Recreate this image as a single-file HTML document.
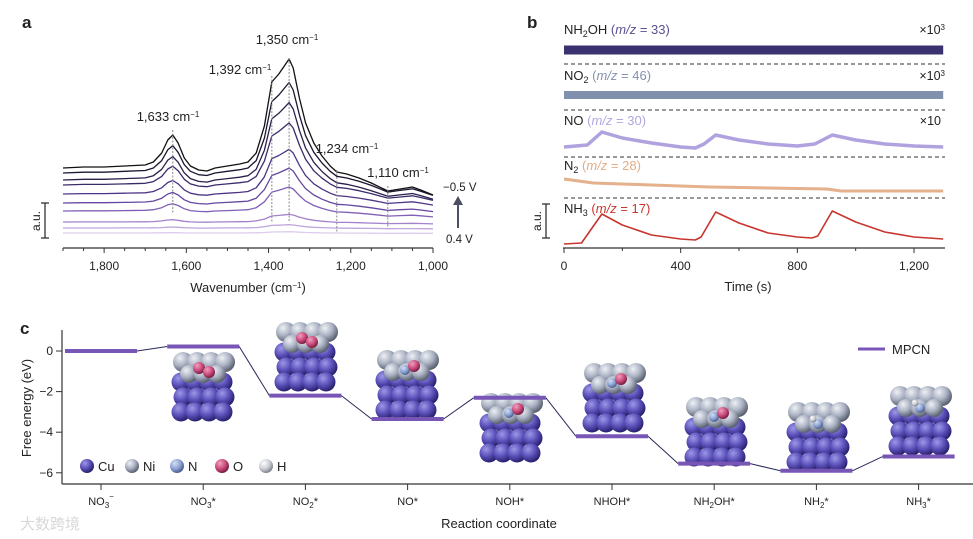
<!DOCTYPE html>
<html><head><meta charset="utf-8">
<style>
body{margin:0;background:#fff;}
svg{display:block;font-family:"Liberation Sans",Arial,sans-serif;}
text{fill:#222;}
</style></head>
<body>
<svg id="fig" width="973" height="539" viewBox="0 0 973 539" xmlns="http://www.w3.org/2000/svg">
<defs>
<radialGradient id="gCu" cx="35%" cy="30%" r="70%"><stop offset="0" stop-color="#9c98e8"/><stop offset="0.55" stop-color="#5a4fb8"/><stop offset="1" stop-color="#2a2270"/></radialGradient>
<radialGradient id="gNi" cx="35%" cy="30%" r="70%"><stop offset="0" stop-color="#eef0f4"/><stop offset="0.55" stop-color="#a9b1c2"/><stop offset="1" stop-color="#5b6170"/></radialGradient>
<radialGradient id="gN" cx="35%" cy="30%" r="70%"><stop offset="0" stop-color="#d5e0f5"/><stop offset="0.6" stop-color="#8aa0d0"/><stop offset="1" stop-color="#4c5f90"/></radialGradient>
<radialGradient id="gO" cx="35%" cy="30%" r="70%"><stop offset="0" stop-color="#f2a0bf"/><stop offset="0.6" stop-color="#c84a7a"/><stop offset="1" stop-color="#7a1e44"/></radialGradient>
<radialGradient id="gH" cx="35%" cy="30%" r="70%"><stop offset="0" stop-color="#ffffff"/><stop offset="0.6" stop-color="#c8cbd2"/><stop offset="1" stop-color="#80848e"/></radialGradient>
</defs>

<g>
<text x="22" y="28" font-size="17" font-weight="bold">a</text>
<g id="aCurves"></g>
<g id="aAxis"></g>
<text x="248" y="292" font-size="13" text-anchor="middle">Wavenumber (cm<tspan baseline-shift="super" font-size="8">−1</tspan>)</text>
<g>
<line x1="45" y1="203" x2="45" y2="238" stroke="#333" stroke-width="1.3"/>
<line x1="41" y1="203" x2="49" y2="203" stroke="#333" stroke-width="1.3"/>
<line x1="41" y1="238" x2="49" y2="238" stroke="#333" stroke-width="1.3"/>
<text transform="translate(40,221) rotate(-90)" font-size="12" text-anchor="middle">a.u.</text>
</g>
<text x="443" y="191" font-size="11.5">−0.5 V</text>
<text x="446" y="243" font-size="11.5">0.4 V</text>
<g>
<line x1="458" y1="228" x2="458" y2="204" stroke="#4a5060" stroke-width="2"/>
<polygon points="453,205 463,205 458,196" fill="#4a5060"/>
</g>
</g>

<g>
<text x="527" y="28" font-size="17" font-weight="bold">b</text>
<g id="bTraces"></g>
<g id="bAxis"></g>
<text x="748" y="291" font-size="13" text-anchor="middle">Time (s)</text>
<g>
<line x1="546" y1="204" x2="546" y2="238" stroke="#333" stroke-width="1.3"/>
<line x1="542" y1="204" x2="550" y2="204" stroke="#333" stroke-width="1.3"/>
<line x1="542" y1="238" x2="550" y2="238" stroke="#333" stroke-width="1.3"/>
<text transform="translate(541,221) rotate(-90)" font-size="12" text-anchor="middle">a.u.</text>
</g>
<text x="564" y="34" font-size="13">NH<tspan font-size="9" dy="3">2</tspan><tspan dy="-3">OH </tspan><tspan fill="#5a4f90">(<tspan font-style="italic">m/z</tspan> = 33)</tspan></text>
<text x="564" y="80" font-size="13">NO<tspan font-size="9" dy="3">2</tspan><tspan dy="-3" fill="#8592b0"> (<tspan font-style="italic">m/z</tspan> = 46)</tspan></text>
<text x="564" y="125" font-size="13">NO <tspan fill="#b3a6e0">(<tspan font-style="italic">m/z</tspan> = 30)</tspan></text>
<text x="564" y="170" font-size="13">N<tspan font-size="9" dy="3">2</tspan><tspan dy="-3" fill="#e3ad88"> (<tspan font-style="italic">m/z</tspan> = 28)</tspan></text>
<text x="564" y="213" font-size="13">NH<tspan font-size="9" dy="3">3</tspan><tspan dy="-3" fill="#c8352e"> (<tspan font-style="italic">m/z</tspan> = 17)</tspan></text>
<text x="945" y="34" font-size="12.5" text-anchor="end">×10<tspan baseline-shift="super" font-size="8">3</tspan></text>
<text x="945" y="80" font-size="12.5" text-anchor="end">×10<tspan baseline-shift="super" font-size="8">3</tspan></text>
<text x="941" y="125" font-size="12.5" text-anchor="end">×10</text>
</g>

<g>
<text x="20" y="334" font-size="17" font-weight="bold">c</text>
<g id="cClusters"></g>
<g id="cChart"></g>
<text transform="translate(31,408) rotate(-90)" font-size="13" text-anchor="middle">Free energy (eV)</text>
<text x="499" y="528" font-size="13" text-anchor="middle">Reaction coordinate</text>
<g>
<line x1="858" y1="349" x2="885" y2="349" stroke="#7756b5" stroke-width="3"/>
<text x="892" y="354" font-size="13">MPCN</text>
</g>
<g id="atomLegend"></g>
<text x="20" y="529" font-size="15" style="fill:#d8d8d8">大数跨境</text>
</g>
</svg>

<script>
var NS="http://www.w3.org/2000/svg";
function mk(tag,attrs,parent){var e=document.createElementNS(NS,tag);for(var k in attrs)e.setAttribute(k,attrs[k]);parent.appendChild(e);return e;}

// ---------- Panel a data ----------
var aWavenumbers=[1900,1850,1800,1750,1700,1680,1660,1645,1633,1620,1605,1590,1570,1550,1530,1500,1470,1450,1430,1410,1392,1375,1360,1350,1340,1325,1310,1290,1270,1250,1234,1210,1180,1150,1120,1110,1080,1050,1030,1000];
var aShape=[0,1,1,2,3,6,15,28,33,25,10,2,-2,-3,0,2,4,6,15,42,86,94,103,109,100,70,45,25,12,2,-4,-6,-10,-15,-21,-23,-21,-19,-22,-27];
var aOffsets=[65,60,53,48,39,30,22,11,5,0];
var aScales=[1,0.83,0.71,0.57,0.41,0.32,0.22,0.07,0.03,0.012];
var aColors=["#111111","#1d1530","#2c1f4a","#3b2a6a","#4c3486","#6447a0","#8060b6","#a283cb","#bfa6dc","#dccdee"];
var aTicks=[1800,1600,1400,1200,1000];
var aTickLabels=["1,800","1,600","1,400","1,200","1,000"];
var aPeaks=[1633,1392,1350,1234,1110];
var aPeakLabels=["1,633","1,392","1,350","1,234","1,110"];
function axA(w){return 63+(1900-w)*(433-63)/900;}
function ayA(v){return 233-v;}

// ---------- Panel b data ----------
var bTimesNH3=[0,60,130,200,300,400,450,470,520,600,700,800,850,870,920,1000,1100,1200,1300];
var bNH3=[0,1,30,19,9,5,4,7,32,21,11,7,6,8,33,22,12,7,5];
var bTimesNO=[0,80,130,200,300,400,450,480,520,600,700,800,860,920,1000,1100,1200,1300];
var bNO=[0,2,15,9,4,0,-1,3,12,7,3,1,3,12,7,3,1,0];
var bTimesN2=[0,100,300,500,700,900,950,1300];
var bN2=[0,-4,-6,-8,-9,-10,-12,-12];
var bTimesFlat=[0,1300];
var bNO2=[0,0];
var bNH2OH=[0,0];
var bTicks=[0,400,800,1200];
var bTickLabels=["0","400","800","1,200"];
function axB(t){return 564+t*(914-564)/1200;}

// ---------- Panel c data ----------
var cSteps=["NO3-","NO3*","NO2*","NO*","NOH*","NHOH*","NH2OH*","NH2*","NH3*"];
var cEnergies=[0,0.22,-2.2,-3.35,-2.3,-4.2,-5.55,-5.9,-5.2];
var cYTicks=[0,-2,-4,-6];
function axC(i){return 101+i*102.2;}
function ayC(e){return 351-e*20.3;}

function stepLabel(t,s){
  var m=s.match(/^([A-Z]+?)(\d)?([A-Z]*)([*\-])?$/);
  // manual construction
  var parts={"NO3-":["NO","3","","−",true],"NO3*":["NO","3","","*"],"NO2*":["NO","2","","*"],"NO*":["NO*","","",""],"NOH*":["NOH*","","",""],"NHOH*":["NHOH*","","",""],"NH2OH*":["NH","2","OH*",""],"NH2*":["NH","2","","*"],"NH3*":["NH","3","","*"]}[s];
  t.appendChild(document.createTextNode(parts[0]));
  if(parts[1]){var a=document.createElementNS(NS,'tspan');a.setAttribute('font-size','8');a.setAttribute('dy','3');a.textContent=parts[1];t.appendChild(a);
    var b=document.createElementNS(NS,'tspan');b.setAttribute('dy',parts[4]?'-9':'-3');if(parts[4])b.setAttribute('font-size','8');b.textContent=parts[2]+parts[3];t.appendChild(b);}
}

(function(){
 var g=document.getElementById('aCurves');
 for(var i=aOffsets.length-1;i>=0;i--){
  var pts=[];
  for(var j=0;j<aWavenumbers.length;j++)pts.push(axA(aWavenumbers[j]).toFixed(1)+","+ayA(aOffsets[i]+aScales[i]*aShape[j]).toFixed(1));
  var p=mk('polyline',{points:pts.join(' '),fill:'none',stroke:aColors[i],'stroke-width':1.3,'stroke-linejoin':'round'},g);
  
  
 }
 var tops=[130,76,58,170,186], bots=[214,222,221,233,228];
 var lx=[168,240,287,347,398], ly=[121,74,44,153,177];
 for(var k=0;k<aPeaks.length;k++){
  var l=mk('line',{x1:axA(aPeaks[k]),x2:axA(aPeaks[k]),y1:tops[k],y2:bots[k],stroke:'#888','stroke-width':1,'stroke-dasharray':'2,1.5'},g);
  
  
  var t=mk('text',{x:lx[k],y:ly[k],'font-size':13,'text-anchor':'middle'},g);
  t.appendChild(document.createTextNode(aPeakLabels[k]+' cm'));
  var sp=mk('tspan',{'baseline-shift':'super','font-size':8},t);sp.textContent='−1';
  
  
 }
 var ax=document.getElementById('aAxis');
 mk('line',{x1:63,x2:433,y1:248,y2:248,stroke:'#333','stroke-width':1.2},ax);
 for(var w=1900;w>=1000;w-=50){mk('line',{x1:axA(w),x2:axA(w),y1:248,y2:(w%200==0)?253:251,stroke:'#333','stroke-width':1},ax);}
 for(var m=0;m<aTicks.length;m++){
  var tt=mk('text',{x:axA(aTicks[m]),y:270,'font-size':12,'text-anchor':'middle'},ax);
  tt.textContent=aTickLabels[m];
  
  
 }
})();

(function(){
 var g=document.getElementById('bTraces');
 var traces=[
  {n:'trace-nh2oh',t:bTimesFlat,v:bNH2OH,base:50,c:'#3a3270',w:9},
  {n:'trace-no2',t:bTimesFlat,v:bNO2,base:95,c:'#8190ad',w:8},
  {n:'trace-no',t:bTimesNO,v:bNO,base:147,c:'#b0a2df',w:3.5},
  {n:'trace-n2',t:bTimesN2,v:bN2,base:179,c:'#e5b08c',w:3},
  {n:'trace-nh3',t:bTimesNH3,v:bNH3,base:244,c:'#c8352e',w:1.6}
 ];
 traces.forEach(function(tr){
  var pts=[];
  for(var i=0;i<tr.t.length;i++)pts.push(axB(tr.t[i]).toFixed(1)+","+(tr.base-tr.v[i]).toFixed(1));
  var p=mk('polyline',{points:pts.join(' '),fill:'none',stroke:tr.c,'stroke-width':tr.w,'stroke-linejoin':'round'},g);
  
  
 });
 [64,110,157,198].forEach(function(y,i){
  var l=mk('line',{x1:564,x2:945,y1:y,y2:y,stroke:'#333','stroke-width':1.1,'stroke-dasharray':'4,3'},g);
  
  
 });
 var ax=document.getElementById('bAxis');
 mk('line',{x1:563,x2:945,y1:248,y2:248,stroke:'#333','stroke-width':1.2},ax);
 for(var t=0;t<=1300;t+=200){mk('line',{x1:axB(t),x2:axB(t),y1:248,y2:(t%400==0)?253:251,stroke:'#333','stroke-width':1},ax);}
 for(var m=0;m<bTicks.length;m++){
  var tt=mk('text',{x:axB(bTicks[m]),y:270,'font-size':12,'text-anchor':'middle'},ax);
  tt.textContent=bTickLabels[m];
  
  
 }
})();

(function(){
 var cg=document.getElementById('cClusters');
 var clusters=[[203,352,'OO'],[306,322,'OO'],[407,350,'NO'],[511,393,'NO'],[614,363,'NO'],[716,397,'NO'],[818,402,'N'],[920,386,'N']];
 clusters.forEach(function(cl,ci){
  var grp=mk('g',{},cg);
  
  
  var cx=cl[0], top=cl[1], r=9;
  for(var c=0;c<4;c++)mk('circle',{cx:cx-20+c*14,cy:top+10,r:r+1,fill:'url(#gNi)'},grp);
  for(var row=0;row<3;row++)for(var c2=0;c2<4;c2++)
   mk('circle',{cx:cx-22+c2*14+(row%2)*2,cy:top+30+row*15,r:r+0.5,fill:'url(#gCu)'},grp);
  for(var c3=0;c3<3;c3++)mk('circle',{cx:cx-14+c3*14,cy:top+22,r:r,fill:'url(#gNi)'},grp);
  if(cl[2]=='OO'){mk('circle',{cx:cx-4,cy:top+16,r:6,fill:'url(#gO)'},grp);mk('circle',{cx:cx+6,cy:top+20,r:6,fill:'url(#gO)'},grp);}
  else if(cl[2]=='NO'){mk('circle',{cx:cx-2,cy:top+20,r:5,fill:'url(#gN)'},grp);mk('circle',{cx:cx+7,cy:top+16,r:6,fill:'url(#gO)'},grp);}
  else {mk('circle',{cx:cx,cy:top+22,r:5,fill:'url(#gN)'},grp);mk('circle',{cx:cx-5,cy:top+17,r:3.5,fill:'url(#gH)'},grp);}
 });

 var g=document.getElementById('cChart');
 mk('line',{x1:62,x2:62,y1:330,y2:484,stroke:'#333','stroke-width':1.2},g);
 mk('line',{x1:62,x2:973,y1:484,y2:484,stroke:'#333','stroke-width':1.2},g);
 for(var k=0;k<cYTicks.length;k++){
  var y=ayC(cYTicks[k]);
  mk('line',{x1:56,x2:62,y1:y,y2:y,stroke:'#333','stroke-width':1},g);
  var t=mk('text',{x:53,y:y+4,'font-size':12,'text-anchor':'end'},g);
  t.textContent=(cYTicks[k]==0)?'0':'−'+Math.abs(cYTicks[k]);
  
  
 }
 for(var i=0;i<cSteps.length;i++){
  var x=axC(i), yy=ayC(cEnergies[i]);
  mk('line',{x1:x,x2:x,y1:484,y2:490,stroke:'#333','stroke-width':1},g);
  var tl=mk('text',{x:x,y:505,'font-size':11,'text-anchor':'middle'},g);
  stepLabel(tl,cSteps[i]);
  
  
  if(i>0){
   var c=mk('line',{x1:axC(i-1)+36,y1:ayC(cEnergies[i-1]),x2:x-36,y2:yy,stroke:'#2a2a5a','stroke-width':1},g);
   
   
  }
  var b=mk('line',{x1:x-36,x2:x+36,y1:yy,y2:yy,stroke:'#7756b5','stroke-width':4},g);
  
  
 }
 var al=document.getElementById('atomLegend');
 var atoms=[['Cu','gCu',87],['Ni','gNi',132],['N','gN',177],['O','gO',222],['H','gH',266]];
 atoms.forEach(function(a){
  var gg=mk('g',{},al);
  
  
  mk('circle',{cx:a[2],cy:466,r:7,fill:'url(#'+a[1]+')'},gg);
  var t=mk('text',{x:a[2]+11,y:471,'font-size':13},gg);t.textContent=a[0];
 });
})();
</script>
</body></html>
